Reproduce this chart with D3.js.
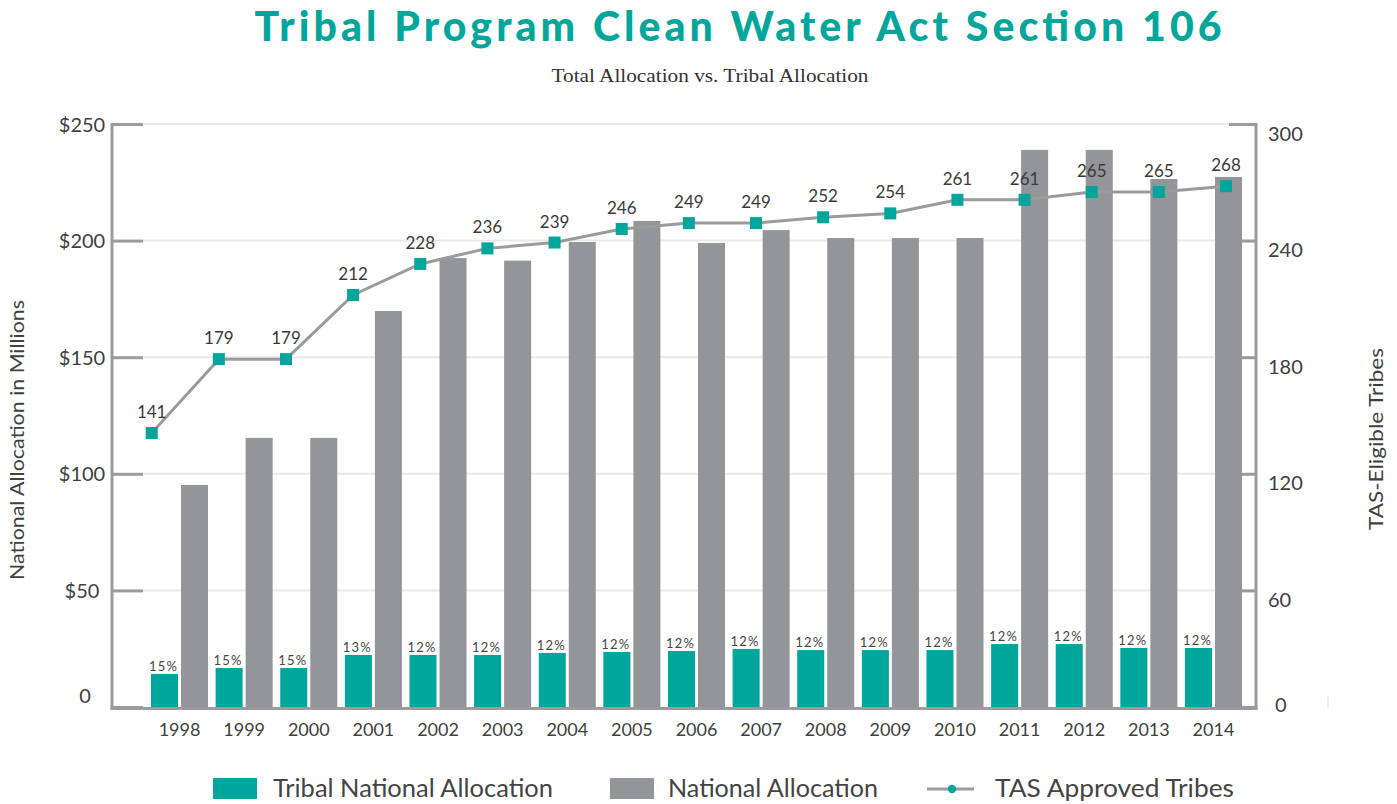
<!DOCTYPE html>
<html>
<head>
<meta charset="utf-8">
<script src="https://cdn.jsdelivr.net/npm/d3@7"></script>
<style>
  html, body { margin: 0; padding: 0; background: #ffffff; }
  svg { display: block; }
  text { font-family: Lato, "Open Sans", sans-serif; fill: #404040; }
</style>
</head>
<body>
<svg id="chart" width="1397" height="804"></svg>
<script>
// ---------------- data ----------------
const years = ["1998","1999","2000","2001","2002","2003","2004","2005","2006","2007","2008","2009","2010","2011","2012","2013","2014"];
const nationalAllocation = [95.2, 115.4, 115.4, 169.8, 192.5, 191.4, 199.4, 208.4, 199.0, 204.5, 201.1, 201.1, 201.1, 238.9, 238.9, 226.4, 227.3];
const tribalAllocation = [14.2, 16.7, 16.7, 22.3, 22.3, 22.3, 23.2, 23.6, 24.0, 24.9, 24.4, 24.4, 24.4, 27.0, 27.0, 25.3, 25.3];
const tribalShareLabels = ["15%","15%","15%","13%","12%","12%","12%","12%","12%","12%","12%","12%","12%","12%","12%","12%","12%"];
const tasApprovedTribes = [141, 179, 179, 212, 228, 236, 239, 246, 249, 249, 252, 254, 261, 261, 265, 265, 268];
const leftTicks = [0, 50, 100, 150, 200, 250];
const rightTicks = [0, 60, 120, 180, 240, 300];
const seriesNames = ["Tribal National Allocation", "National Allocation", "TAS Approved Tribes"];

// ---------------- style ----------------
const TEAL = "#00a59b";
const GRAY = "#939598";
const AXIS = "#9b9b9e";
const GRID = "#e9e9e9";
const TXT = "#404040";

const svg = d3.select("#chart");

const plotLeft = 112, plotRight = 1256, plotTop = 124, plotBottom = 707;

// scales
const yL = d3.scaleLinear().domain([0, 250]).range([plotBottom, plotTop]);
const yR = d3.scaleLinear().domain([0, 300]).range([plotBottom, plotTop]);
const x0 = d3.scaleBand().domain(years).range([151, 1242]).paddingInner(0.1176).paddingOuter(0);
const x1 = d3.scaleBand().domain(["tribal", "national"]).range([0, x0.bandwidth()]).paddingInner(0.1);
const xLine = d3.scalePoint().domain(years).range([151.7, 1226]);

// ---------------- title ----------------
svg.append("text")
  .attr("x", 738).attr("y", 41)
  .attr("text-anchor", "middle")
  .attr("textLength", 967).attr("lengthAdjust", "spacing")
  .style("font-size", "41px").style("font-weight", "900")
  .style("fill", TEAL)
  .text("Tribal Program Clean Water Act Section 106");

svg.append("text")
  .attr("x", 710).attr("y", 82)
  .attr("text-anchor", "middle")
  .attr("textLength", 317).attr("lengthAdjust", "spacingAndGlyphs")
  .style("font-family", "'Liberation Serif', 'DejaVu Serif', serif")
  .style("font-size", "18px").style("fill", "#333")
  .text("Total Allocation vs. Tribal Allocation");

// ---------------- grid ----------------
svg.append("g").selectAll("line")
  .data(leftTicks.filter(d => d > 0))
  .join("line")
  .attr("x1", 143).attr("x2", plotRight)
  .attr("y1", d => yL(d)).attr("y2", d => yL(d))
  .attr("stroke", GRID).attr("stroke-width", 2);

// ---------------- bars ----------------
const groups = svg.append("g").selectAll("g")
  .data(years.map((y, i) => ({ year: y, tribal: tribalAllocation[i], national: nationalAllocation[i], share: tribalShareLabels[i] })))
  .join("g")
  .attr("transform", d => `translate(${x0(d.year)},0)`);

groups.append("rect")
  .attr("x", x1("national")).attr("width", x1.bandwidth())
  .attr("y", d => yL(d.national)).attr("height", d => yL(0) - yL(d.national))
  .attr("fill", GRAY);

groups.append("rect")
  .attr("x", x1("tribal")).attr("width", x1.bandwidth())
  .attr("y", d => yL(d.tribal)).attr("height", d => yL(0) - yL(d.tribal))
  .attr("fill", TEAL);

groups.append("text")
  .attr("x", x1("tribal") + x1.bandwidth() / 2 - 1)
  .attr("y", d => yL(d.tribal) - 3)
  .attr("text-anchor", "middle")
  .style("font-size", "13px").style("letter-spacing", "1.2px")
  .style("fill", "#454545")
  .text(d => d.share);

// ---------------- axes ----------------
// left axis
const leftAxis = svg.append("g")
  .attr("transform", `translate(${plotLeft},0)`)
  .call(d3.axisLeft(yL).tickValues(leftTicks).tickSize(-31).tickPadding(30)
    .tickFormat(d => d === 0 ? "0" : "$" + d));
leftAxis.select(".domain").remove();
leftAxis.selectAll(".tick line").attr("stroke", AXIS).attr("stroke-width", 3);
leftAxis.selectAll(".tick text")
  .attr("text-anchor", "middle")
  .style("font-size", "20px").style("fill", TXT).style("font-family", "Lato, sans-serif")
  .attr("dy", "0.35em")
  .attr("transform", d => d === 0 ? "translate(3,-12)" : null);
svg.append("line")
  .attr("x1", plotLeft).attr("x2", plotLeft)
  .attr("y1", plotTop - 1).attr("y2", plotBottom + 2.5)
  .attr("stroke", AXIS).attr("stroke-width", 3);

// right axis
const rightAxis = svg.append("g")
  .attr("transform", `translate(${plotRight},0)`)
  .call(d3.axisRight(yR).tickValues(rightTicks).tickSize(-14).tickPadding(12));
rightAxis.select(".domain").remove();
rightAxis.selectAll(".tick line").attr("stroke", AXIS).attr("stroke-width", 3)
  .attr("x2", d => d === 300 ? -27 : -14);
rightAxis.selectAll(".tick text")
  .style("font-size", "20px").style("fill", TXT).style("font-family", "Lato, sans-serif")
  .attr("dy", "0.35em")
  .attr("transform", d => d === 0 ? "translate(7,-3)" : "translate(0,9)");
svg.append("line")
  .attr("x1", plotRight).attr("x2", plotRight)
  .attr("y1", plotTop - 1).attr("y2", plotBottom + 2.5)
  .attr("stroke", AXIS).attr("stroke-width", 3);

// bottom axis
const bottomAxis = svg.append("g")
  .attr("transform", `translate(0,${plotBottom})`)
  .call(d3.axisBottom(x0).tickSize(0).tickPadding(16));
bottomAxis.select(".domain").remove();
bottomAxis.selectAll(".tick text")
  .style("font-size", "18px").style("fill", TXT).style("font-family", "Lato, sans-serif");
svg.append("line")
  .attr("x1", plotLeft - 1.5).attr("x2", plotRight + 1.5)
  .attr("y1", plotBottom + 1.5).attr("y2", plotBottom + 1.5)
  .attr("stroke", AXIS).attr("stroke-width", 3);

// small mark at right
svg.append("line")
  .attr("x1", 1328).attr("x2", 1328).attr("y1", 695).attr("y2", 708)
  .attr("stroke", "#dcdcdc").attr("stroke-width", 1);

// axis titles
svg.append("text")
  .attr("transform", "translate(24,440) rotate(-90)")
  .attr("text-anchor", "middle")
  .attr("textLength", 280).attr("lengthAdjust", "spacingAndGlyphs")
  .style("font-size", "20px")
  .text("National Allocation in Millions");

svg.append("text")
  .attr("transform", "translate(1383,439) rotate(-90)")
  .attr("text-anchor", "middle")
  .attr("textLength", 182).attr("lengthAdjust", "spacingAndGlyphs")
  .style("font-size", "20px")
  .text("TAS-Eligible Tribes");

// ---------------- line ----------------
const lineGen = d3.line().x((d, i) => xLine(years[i])).y(d => yR(d));
svg.append("path")
  .datum(tasApprovedTribes)
  .attr("d", lineGen)
  .attr("fill", "none").attr("stroke", AXIS).attr("stroke-width", 3);

svg.append("g").selectAll("rect")
  .data(tasApprovedTribes)
  .join("rect")
  .attr("x", (d, i) => xLine(years[i]) - 6)
  .attr("y", d => yR(d) - 6)
  .attr("width", 12).attr("height", 12)
  .attr("fill", TEAL);

svg.append("g").selectAll("text")
  .data(tasApprovedTribes)
  .join("text")
  .attr("x", (d, i) => xLine(years[i]))
  .attr("y", d => yR(d) - 15)
  .attr("text-anchor", "middle")
  .style("font-size", "17px").style("fill", "#3a3a3a")
  .text(d => d);

// ---------------- legend ----------------
const legend = svg.append("g");
legend.append("rect").attr("x", 213).attr("y", 778).attr("width", 44).attr("height", 21).attr("fill", TEAL);
legend.append("text").attr("x", 273).attr("y", 797)
  .attr("textLength", 280).attr("lengthAdjust", "spacingAndGlyphs")
  .style("font-size", "25px").style("fill", "#444").text(seriesNames[0]);

legend.append("rect").attr("x", 610).attr("y", 778).attr("width", 44).attr("height", 21).attr("fill", GRAY);
legend.append("text").attr("x", 668).attr("y", 797)
  .attr("textLength", 210).attr("lengthAdjust", "spacingAndGlyphs")
  .style("font-size", "25px").style("fill", "#444").text(seriesNames[1]);

legend.append("line").attr("x1", 927).attr("x2", 974).attr("y1", 789).attr("y2", 789)
  .attr("stroke", AXIS).attr("stroke-width", 3);
legend.append("circle").attr("cx", 952).attr("cy", 789).attr("r", 4.2).attr("fill", TEAL);
legend.append("text").attr("x", 995).attr("y", 797)
  .attr("textLength", 239).attr("lengthAdjust", "spacingAndGlyphs")
  .style("font-size", "25px").style("fill", "#444").text(seriesNames[2]);
</script>
</body>
</html>
